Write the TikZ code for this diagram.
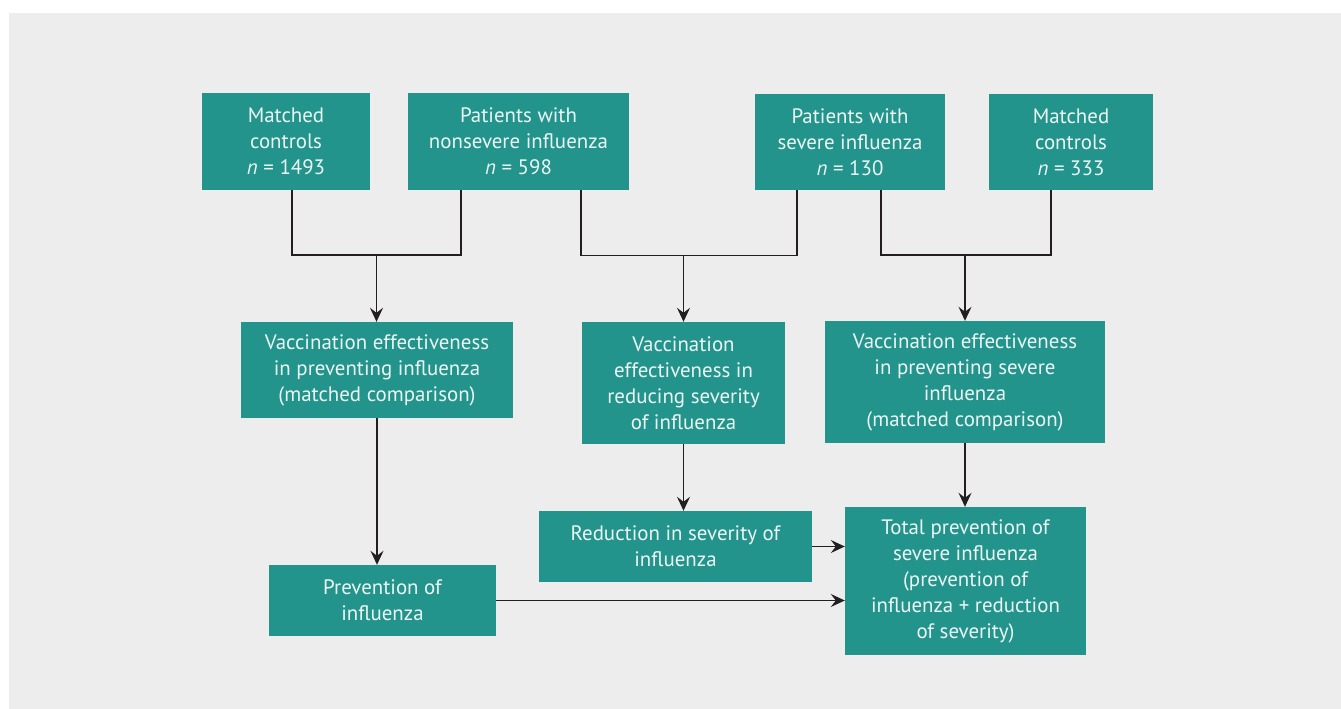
\documentclass[tikz,border=0pt]{standalone}
\usepackage{fontspec}
\setmainfont{PT Sans}
\usetikzlibrary{arrows.meta}
\definecolor{tealbox}{RGB}{35,148,140}
\definecolor{bgc}{RGB}{237,237,237}
\definecolor{txtc}{RGB}{236,246,244}
\definecolor{lnc}{RGB}{35,31,32}
\begin{document}
\begin{tikzpicture}[x=1pt,y=-1pt,
  box/.style={fill=tealbox, text=txtc, align=center, inner sep=0pt,
    font=\fontsize{20.9}{26}\selectfont},
  bar/.style={draw=lnc, line width=1.8pt},
  arr/.style={draw=lnc, line width=1.1pt, -{Stealth[length=14pt,width=13pt,inset=5pt]}}]
\useasboundingbox (0,0) rectangle (1341,709);
\fill[bgc] (9,13) rectangle (1341,709);
% top row
\node[box, minimum width=168pt, minimum height=97pt] (mc1) at (286,141.5) {Matched\\controls\\\textit{n} = 1493};
\node[box, minimum width=221pt, minimum height=97pt] (pn) at (518.5,141.5) {Patients with\\nonsevere influenza\\\textit{n} = 598};
\node[box, minimum width=190pt, minimum height=96pt] (ps) at (850,142) {Patients with\\severe influenza\\\textit{n} = 130};
\node[box, minimum width=164pt, minimum height=96pt] (mc2) at (1071,142) {Matched\\controls\\\textit{n} = 333};
% middle row
\node[box, minimum width=272pt, minimum height=96pt] (ve1) at (377,370) {Vaccination effectiveness\\in preventing influenza\\(matched comparison)};
\node[box, minimum width=203pt, minimum height=122pt] (ve2) at (683.5,383) {Vaccination\\effectiveness in\\reducing severity\\of influenza};
\node[box, minimum width=280pt, minimum height=122pt] (ve3) at (965,382) {Vaccination effectiveness\\in preventing severe\\influenza\\(matched comparison)};
% bottom row
\node[box, minimum width=273pt, minimum height=71pt] (rs) at (675.5,546.5) {Reduction in severity of\\influenza};
\node[box, minimum width=227pt, minimum height=71pt] (pi) at (382.5,600.5) {Prevention of\\influenza};
\node[box, minimum width=241pt, minimum height=148pt] (tp) at (965.5,581) {Total prevention of\\severe influenza\\(prevention of\\influenza + reduction\\of severity)};
% junctions
\coordinate (j1) at (376.5,255);
\coordinate (j2) at (683.5,255.5);
\coordinate (j3) at (965,255);
\draw[bar] ([xshift=6pt]mc1.south) |- (j1) -| ([xshift=-57.5pt]pn.south);
\draw[bar] ([xshift=62.5pt]pn.south) |- (j2) -| ([xshift=-53pt]ps.south);
\draw[bar] ([xshift=31pt]ps.south) |- (j3) -| ([xshift=-20pt]mc2.south);
% arrows
\draw[arr] (j1) -- (j1 |- ve1.north);
\draw[arr] (j2) -- (j2 |- ve2.north);
\draw[arr] (j3) -- (j3 |- ve3.north);
\draw[arr] (ve1.south) -- (ve1.south |- pi.north);
\draw[arr] (ve2.south) -- (ve2.south |- rs.north);
\draw[arr] (ve3.south) -- (ve3.south |- tp.north);
\draw[arr] (rs.east) -- (rs.east -| tp.west);
\draw[arr] (pi.east) -- (pi.east -| tp.west);
\end{tikzpicture}
\end{document}
